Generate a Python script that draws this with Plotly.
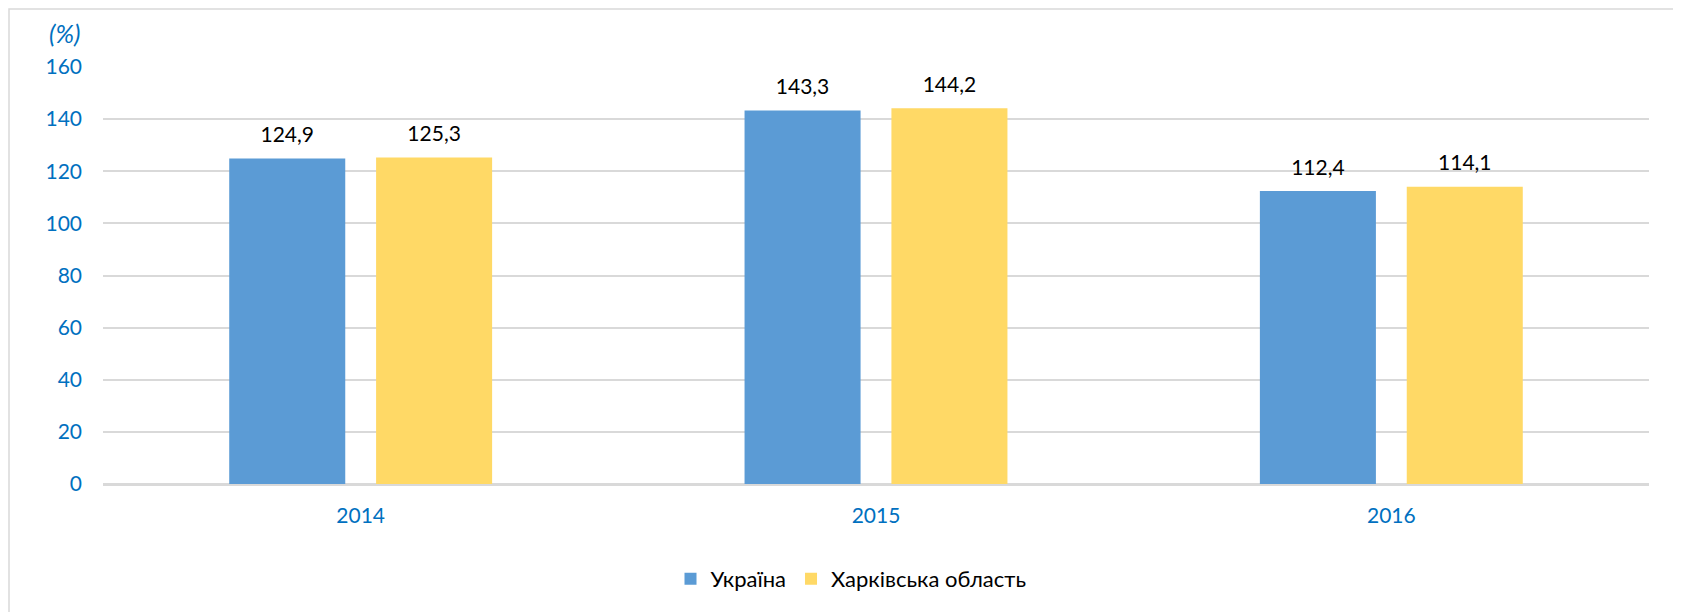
import plotly.graph_objects as go

YEARS = ["2014", "2015", "2016"]
UKRAINE = [124.9, 143.3, 112.4]
KHARKIV = [125.3, 144.2, 114.1]
SERIES_NAMES = ["Україна", "Харківська область"]
Y_TICKS = [0, 20, 40, 60, 80, 100, 120, 140, 160]

BLUE = "#5B9BD5"
YELLOW = "#FFD966"
TICK_BLUE = "#0070C0"
GRID = "#D9D9D9"
FONT = "Lato, 'Open Sans', sans-serif"

# page body has an 8px margin, so the figure starts at (8, 8)
W, H = 1681, 612
ML, MT = 95, 59
PW, PH = 1546, 417
MR, MB = W - ML - PW, H - MT - PH

fig = go.Figure()

for name, vals, color, grp in [
    (SERIES_NAMES[0], UKRAINE, BLUE, "ua"),
    (SERIES_NAMES[1], KHARKIV, YELLOW, "kh"),
]:
    fig.add_trace(go.Bar(
        x=YEARS, y=vals, name=name,
        marker=dict(color=color, line=dict(width=0)),
        offsetgroup=grp,
        hoverinfo="skip",
    ))
    # value labels, grouped the same way as the bars
    fig.add_trace(go.Scatter(
        x=YEARS, y=vals,
        mode="markers+text",
        marker=dict(size=16, opacity=0),
        text=[f"{v:.1f}".replace(".", ",") for v in vals],
        textposition="top center",
        textfont=dict(family=FONT, size=21, color="#000000"),
        offsetgroup=grp,
        showlegend=False,
        hoverinfo="skip",
        cliponaxis=False,
    ))

# outer chart frame
fig.add_shape(
    type="rect", xref="paper", yref="paper",
    x0=(1 - ML) / PW, x1=(W + 20 - ML) / PW,
    y0=-(MB + 20) / PH, y1=1 + (MT - 1) / PH,
    line=dict(color=GRID, width=1.5), fillcolor="rgba(0,0,0,0)",
    layer="below",
)

fig.add_annotation(
    text="<i>(%)</i>", xref="paper", yref="paper",
    x=(57 - ML) / PW, y=1 + (MT - 25) / PH,
    xanchor="center", yanchor="middle", showarrow=False,
    font=dict(family=FONT, size=25, color=TICK_BLUE),
)

fig.update_layout(
    width=W, height=H,
    margin=dict(l=ML, r=MR, t=MT, b=MB),
    paper_bgcolor="#FFFFFF", plot_bgcolor="#FFFFFF",
    barmode="group", bargap=0.43, bargroupgap=0.21,
    scattermode="group", scattergap=0.43,
    font=dict(family=FONT, size=21, color="#000000"),
    xaxis=dict(
        showgrid=False, showline=True, linecolor=GRID, linewidth=1.5,
        tickfont=dict(family=FONT, size=21, color=TICK_BLUE),
        ticks="", ticklabelstandoff=12,
    ),
    yaxis=dict(
        range=[0, 160], tickvals=Y_TICKS,
        showgrid=True, gridcolor=GRID, gridwidth=1.5,
        zeroline=True, zerolinecolor=GRID, zerolinewidth=1.5,
        showline=False,
        tickfont=dict(family=FONT, size=21, color=TICK_BLUE),
        ticks="", ticklabelstandoff=20,
    ),
    legend=dict(
        orientation="h", x=(843 - ML) / PW, y=-(571 - (MT + PH)) / PH,
        xanchor="center", yanchor="middle",
        font=dict(family=FONT, size=22, color="#000000"),
        itemwidth=30, traceorder="normal",
    ),
    showlegend=True,
)

fig.write_html("out.html")
